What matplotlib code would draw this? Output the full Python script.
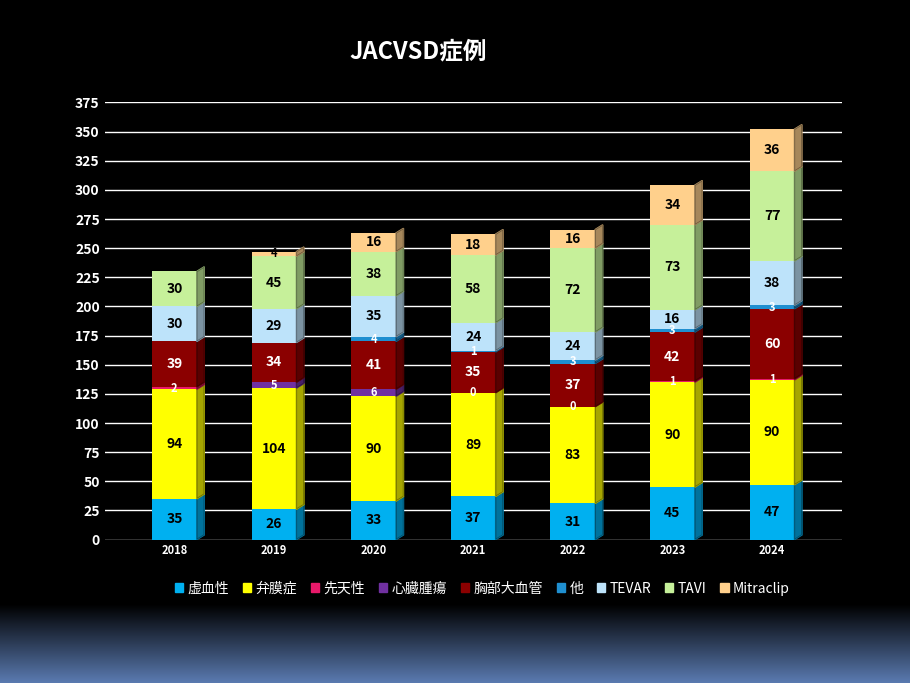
import matplotlib
matplotlib.use("Agg")
import matplotlib.pyplot as plt
import numpy as np
from matplotlib.colors import LinearSegmentedColormap

years = ["2018", "2019", "2020", "2021", "2022", "2023", "2024"]
series_names = ["虚血性", "弁膜症", "先天性", "心臓腫瘍", "胸部大血管", "他", "TEVAR", "TAVI", "Mitraclip"]
kyoketsu = [35, 26, 33, 37, 31, 45, 47]
benmaku = [94, 104, 90, 89, 83, 90, 90]
sentensei = [2, None, None, 0, 0, 1, 1]
shinzoshuyo = [None, 5, 6, None, None, None, None]
kyobu = [39, 34, 41, 35, 37, 42, 60]
hoka = [None, None, 4, 1, 3, 3, 3]
tevar = [30, 29, 35, 24, 24, 16, 38]
tavi = [30, 45, 38, 58, 72, 73, 77]
mitraclip = [None, 4, 16, 18, 16, 34, 36]
yticks = list(range(0, 376, 25))

data = [kyoketsu, benmaku, sentensei, shinzoshuyo, kyobu, hoka, tevar, tavi, mitraclip]
colors = ["#00B0F0", "#FFFF00", "#E8196A", "#7030A0", "#8B0000", "#1F8FD0", "#BDE3FA", "#C6F09A", "#FFD08C"]
txtc = ["black", "black", "white", "white", "white", "white", "black", "black", "black"]

plt.rcParams["font.family"] = ["Noto Sans CJK JP"]
fig = plt.figure(figsize=(9.1, 6.83), dpi=100, facecolor="black")
bg = fig.add_axes([0, 0, 1, 0.115])
grad = np.linspace(0, 1, 100).reshape(-1, 1)
cm = LinearSegmentedColormap.from_list("g", ["#5a7ab0", "#000000"])
bg.imshow(grad, aspect="auto", cmap=cm, origin="lower")
bg.axis("off")

ax = fig.add_axes([0.115, 0.21, 0.81, 0.64], facecolor="black")
x = np.arange(len(years))
bottom = np.zeros(len(years))
for vals, c, tc in zip(data, colors, txtc):
    v = np.array([0 if a is None else a for a in vals], dtype=float)
    ax.bar(x, v, 0.45, bottom=bottom, color=c, edgecolor="none", zorder=3)
    for i in range(len(years)):
        if v[i] > 0:
            xs = [x[i]+0.225, x[i]+0.30, x[i]+0.30, x[i]+0.225]
            ys = [bottom[i], bottom[i]+4, bottom[i]+v[i]+4, bottom[i]+v[i]]
            ax.fill(xs, ys, color=c, zorder=3)
            ax.fill(xs, ys, color="black", alpha=0.35, zorder=3)
        if vals[i] is not None:
            fs = 10 if v[i] >= 8 else 8
            ax.text(x[i], bottom[i] + v[i] / 2, str(vals[i]), ha="center", va="center",
                    fontsize=fs, color=tc, fontweight="bold", zorder=4)
    bottom += v

for t in yticks:
    ax.axhline(t, color="white", lw=1, zorder=1)
ax.set_xlim(-0.7, 6.7)
ax.set_ylim(0, 375)
ax.set_yticks(yticks)
ax.set_xticks(x)
ax.set_xticklabels(years)
ax.tick_params(colors="white", length=0, labelsize=9)
for lbl in ax.get_yticklabels():
    lbl.set_fontsize(10); lbl.set_fontweight("bold")
for lbl in ax.get_xticklabels():
    lbl.set_fontsize(8); lbl.set_fontweight("bold")
for s in ax.spines.values():
    s.set_visible(False)

fig.text(0.46, 0.915, "JACVSD症例", color="white", fontsize=17, fontweight="bold", ha="center")
handles = [plt.Rectangle((0, 0), 1, 1, color=c) for c in colors]
fig.legend(handles, series_names, loc="center", bbox_to_anchor=(0.53, 0.138), ncol=9,
           frameon=False, labelcolor="white", fontsize=10, handlelength=0.6, handleheight=0.6,
           columnspacing=1.0, handletextpad=0.3)
fig.savefig("out.png", dpi=100, facecolor="black")
